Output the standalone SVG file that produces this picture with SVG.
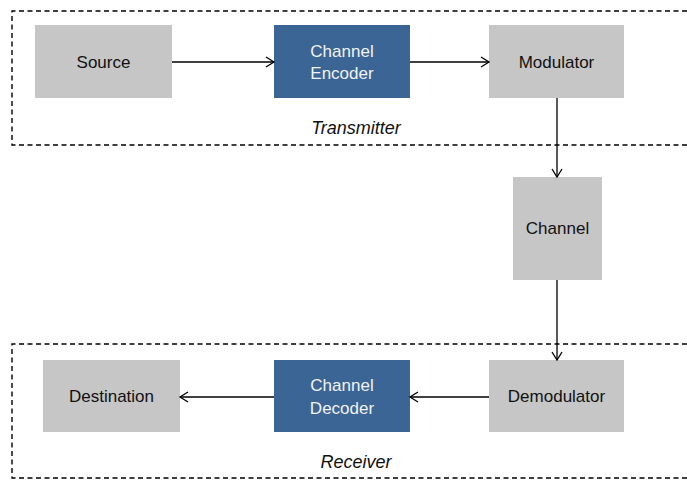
<svg xmlns="http://www.w3.org/2000/svg" width="687" height="480" viewBox="0 0 687 480">
<style>
.gray{fill:#c6c6c6}
.blue{fill:#3a6595}
.t{font-family:"Liberation Sans",Arial,sans-serif;font-size:17px;fill:#111;text-anchor:middle}
.w{fill:#f2f2f2}
.i{font-style:italic;font-size:18px}
.dash{fill:none;stroke:#000;stroke-width:1.4;stroke-dasharray:5,3.5}
.c{fill:none;stroke:#000;stroke-width:1.3;marker-end:url(#arr)}
</style>
<defs>
<marker id="arr" markerWidth="12" markerHeight="12" refX="10" refY="6" orient="auto" markerUnits="userSpaceOnUse">
<path d="M2,1 L10,6 L2,11" fill="none" stroke="#000" stroke-width="1.3"/>
</marker>
</defs>
<rect width="687" height="480" fill="#fff"/>
<g id="transmitter">
<path class="dash" d="M687,11 H12 V145 H687"/>
<text class="t i" x="356" y="134">Transmitter</text>
</g>
<g id="receiver">
<path class="dash" d="M687,344 H12 V478 H687"/>
<text class="t i" x="356" y="468">Receiver</text>
</g>
<g id="source"><rect class="gray" x="35" y="25" width="137" height="73"/><text class="t" x="103.5" y="68">Source</text></g>
<g id="channel-encoder"><rect class="blue" x="274" y="25" width="136" height="73"/><text class="t w" x="342" y="57">Channel</text><text class="t w" x="342" y="79">Encoder</text></g>
<g id="modulator"><rect class="gray" x="489" y="25" width="135" height="73"/><text class="t" x="556.5" y="68">Modulator</text></g>
<g id="channel"><rect class="gray" x="513" y="177" width="89" height="103"/><text class="t" x="557.5" y="234">Channel</text></g>
<g id="demodulator"><rect class="gray" x="489" y="360" width="135" height="72"/><text class="t" x="556.5" y="402">Demodulator</text></g>
<g id="channel-decoder"><rect class="blue" x="274" y="360" width="136" height="72"/><text class="t w" x="342" y="391">Channel</text><text class="t w" x="342" y="414">Decoder</text></g>
<g id="destination"><rect class="gray" x="43" y="360" width="137" height="72"/><text class="t" x="111.5" y="402">Destination</text></g>
<g id="connectors">
<line class="c" x1="172" y1="62" x2="274" y2="62"/>
<line class="c" x1="410" y1="62" x2="489" y2="62"/>
<line class="c" x1="557" y1="98" x2="557" y2="177"/>
<line class="c" x1="557" y1="280" x2="557" y2="360"/>
<line class="c" x1="489" y1="397" x2="410" y2="397"/>
<line class="c" x1="274" y1="397" x2="180" y2="397"/>
</g>
</svg>
